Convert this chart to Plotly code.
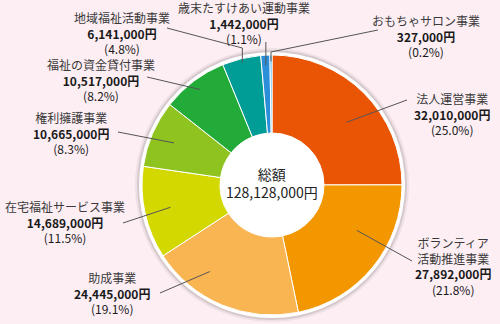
import math
import plotly.graph_objects as go

# ---- data ----
categories = ["法人運営事業", "ボランティア活動推進事業", "助成事業", "在宅福祉サービス事業",
              "権利擁護事業", "福祉の資金貸付事業", "地域福祉活動事業", "歳末たすけあい運動事業",
              "おもちゃサロン事業"]
amounts = [32010000, 27892000, 24445000, 14689000, 10665000, 10517000, 6141000, 1442000, 327000]
percent_labels = ["25.0%", "21.8%", "19.1%", "11.5%", "8.3%", "8.2%", "4.8%", "1.1%", "0.2%"]
center_title = "総額"

# ---- style ----
W, H = 500, 324
colors = ["#e95504", "#f39700", "#f8b552", "#d3d800", "#8fc320", "#22ab38", "#009d96", "#2a8fd8", "#3cb3f0"]
BG = "#fdeef4"
FONT = "Noto Sans CJK JP"
CX, CY, R = 272, 185, 130  # pixel geometry of the pie
HOLE = 0.40
name_display = {"ボランティア活動推進事業": "ボランティア<br>活動推進事業"}

# label placement (pixels): text centre, leader start, optional elbow y, pos within slice, radius fraction
label_style = {
    "法人運営事業":           dict(tx=452, ty=114, sx=407, sy=100, elbow=None, pos=0.555, rf=0.75),
    "ボランティア活動推進事業": dict(tx=453, ty=266, sx=412, sy=261, elbow=None, pos=0.36, rf=0.74),
    "助成事業":               dict(tx=112, ty=293, sx=160, sy=293, elbow=None, pos=0.69, rf=0.82),
    "在宅福祉サービス事業":     dict(tx=65, ty=222, sx=123, sy=223, elbow=None, pos=0.5, rf=0.80),
    "権利擁護事業":           dict(tx=71, ty=133, sx=118, sy=132, elbow=None, pos=0.5, rf=0.82),
    "福祉の資金貸付事業":       dict(tx=101, ty=80, sx=147, sy=77, elbow=None, pos=0.5, rf=0.92),
    "地域福祉活動事業":        dict(tx=122, ty=33, sx=167, sy=28, elbow=48, pos=0.5, rf=0.97),
    "歳末たすけあい運動事業":    dict(tx=244, ty=23, sx=None, sy=42, elbow=None, pos=0.5, rf=0.92),
    "おもちゃサロン事業":       dict(tx=426, ty=36, sx=378, sy=30, elbow=52, pos=0.5, rf=0.95),
}


def px(x):
    return x / W


def py(y):
    return 1 - y / H


def dom(r):
    return dict(x=[px(CX - r), px(CX + r)], y=[py(CY + r), py(CY - r)])


total = sum(amounts)

fig = go.Figure()
# soft shadow and white rim behind the pie
for r, col, op in [(R + 7, "rgba(0,0,0,0.06)", 1), (R + 5, "rgba(0,0,0,0.10)", 1), (R + 3, "#ffffff", 1)]:
    fig.add_trace(go.Pie(values=[1], marker=dict(colors=[col], line=dict(width=0)), domain=dom(r),
                         textinfo="none", hoverinfo="skip", showlegend=False, sort=False, opacity=op))

fig.add_trace(go.Pie(
    labels=categories, values=amounts, sort=False, direction="clockwise", rotation=0,
    hole=HOLE, marker=dict(colors=colors, line=dict(color="#ffffff", width=1)),
    textinfo="none", hoverinfo="label+value", showlegend=False, domain=dom(R),
))

# leader lines + labels
shapes, annotations = [], []
cum = 0
for cat, val, pct in zip(categories, amounts, percent_labels):
    st = label_style[cat]
    frac = (cum + st["pos"] * val) / total
    cum += val
    ang = 2 * math.pi * frac
    ex = CX + st["rf"] * R * math.sin(ang)
    ey = CY - st["rf"] * R * math.cos(ang)
    if st["sx"] is None:
        pts = [(ex, st["sy"]), (ex, ey)]
    elif st["elbow"] is not None:
        pts = [(st["sx"], st["sy"]), (ex, st["elbow"]), (ex, ey)]
    else:
        pts = [(st["sx"], st["sy"]), (ex, ey)]
    path = "M " + " L ".join(f"{px(a):.5f},{py(b):.5f}" for a, b in pts)
    shapes.append(dict(type="path", path=path, xref="paper", yref="paper",
                       line=dict(color="#555555", width=1)))
    name = name_display.get(cat, cat)
    text = (f"<span style='color:#3a3a3a'>{name}</span><br>"
            f"<b>{val:,}円</b><br>({pct})")
    annotations.append(dict(x=px(st["tx"]), y=py(st["ty"]), xref="paper", yref="paper",
                            text=text, showarrow=False, xanchor="center", yanchor="middle",
                            align="center", font=dict(family=FONT, size=12, color="#1a1a1a")))

annotations.append(dict(x=px(CX), y=py(CY - 2), xref="paper", yref="paper",
                        text=f"{center_title}<br>{total:,}円", showarrow=False,
                        xanchor="center", yanchor="middle", align="center",
                        font=dict(family=FONT, size=14, color="#222222")))

fig.update_layout(
    width=W, height=H, margin=dict(l=0, r=0, t=0, b=0),
    paper_bgcolor=BG, plot_bgcolor=BG,
    shapes=shapes, annotations=annotations, showlegend=False,
)
fig.write_html("out.html")
